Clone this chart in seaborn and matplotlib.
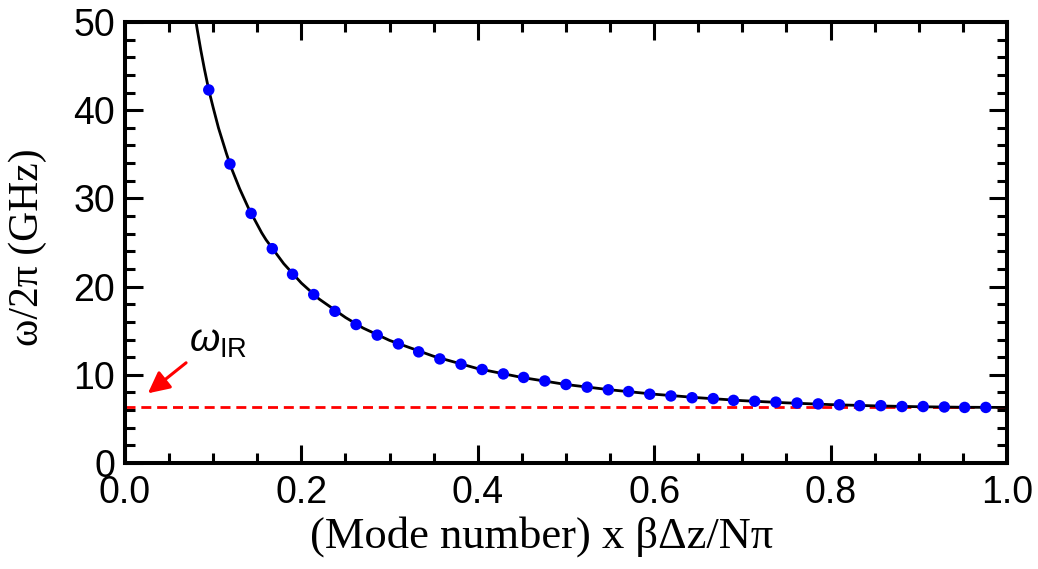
import numpy as np
import pandas as pd
import seaborn as sns
import matplotlib.pyplot as plt
from matplotlib.ticker import MultipleLocator

# mode points (blue dots)
mode_x = [0.095, 0.119, 0.143, 0.167, 0.190, 0.214, 0.238, 0.262, 0.286, 0.310,
          0.333, 0.357, 0.381, 0.405, 0.429, 0.452, 0.476, 0.500, 0.524, 0.548,
          0.571, 0.595, 0.619, 0.643, 0.667, 0.690, 0.714, 0.738, 0.762, 0.786,
          0.810, 0.833, 0.857, 0.881, 0.905, 0.929, 0.952, 0.976]
mode_w = [42.3, 33.9, 28.3, 24.3, 21.4, 19.1, 17.2, 15.7, 14.5, 13.5,
          12.6, 11.8, 11.2, 10.6, 10.1, 9.7, 9.3, 8.9, 8.6, 8.3,
          8.1, 7.8, 7.6, 7.4, 7.3, 7.1, 7.0, 6.9, 6.8, 6.7,
          6.6, 6.5, 6.5, 6.4, 6.4, 6.35, 6.3, 6.3]

# dispersion curve (black line)
curve_x = [0.078, 0.082, 0.086, 0.090, 0.095, 0.100, 0.106, 0.115, 0.120, 0.130,
           0.140, 0.155, 0.160, 0.180, 0.200, 0.220, 0.250, 0.270, 0.300, 0.350,
           0.400, 0.450, 0.500, 0.550, 0.600, 0.650, 0.700, 0.750, 0.800, 0.850,
           0.900, 0.950, 1.000]
curve_w = [51.6, 49.1, 46.8, 44.7, 42.3, 40.3, 38.0, 35.1, 33.6, 31.1,
           28.9, 26.1, 25.3, 22.6, 20.4, 18.6, 16.5, 15.3, 13.9, 12.1,
           10.7, 9.7, 8.9, 8.3, 7.8, 7.4, 7.07, 6.82, 6.62, 6.48,
           6.38, 6.32, 6.30]

w_ir = 6.4

sns.set_theme(style="ticks")
plt.rcParams['font.family'] = ['Liberation Sans', 'DejaVu Sans']
plt.rcParams['mathtext.fontset'] = 'custom'
plt.rcParams['mathtext.rm'] = 'Liberation Sans'
plt.rcParams['mathtext.it'] = 'Liberation Sans:italic'
plt.rcParams['text.color'] = 'black'
plt.rcParams['axes.labelcolor'] = 'black'

fig = plt.figure(figsize=(10.38, 5.69), dpi=100)
ax = fig.add_axes([0.1204, 0.1863, 0.8497, 0.775])

curve_df = pd.DataFrame({'x': curve_x, 'w': curve_w})
mode_df = pd.DataFrame({'x': mode_x, 'w': mode_w})

ax.axhline(w_ir, color='#ff0000', lw=2, dashes=(3.6, 2.1), zorder=1)
sns.lineplot(data=curve_df, x='x', y='w', color='black', lw=2,
             estimator=None, sort=False, ax=ax, zorder=2)
sns.scatterplot(data=mode_df, x='x', y='w', color='#0000ff', s=68,
                edgecolor='none', ax=ax, zorder=3)

ax.annotate(r'$\omega_{\rm IR}$', xy=(0.026, 7.9), xytext=(0.073, 12.6),
            fontsize=28, color='black', ha='left', va='baseline',
            arrowprops=dict(arrowstyle='-|>,head_length=0.5,head_width=0.25',
                            color='#ff0000', lw=2.2,
                            mutation_scale=26, shrinkA=0, shrinkB=0,
                            relpos=(0.0, 0.0)))

ax.set_xlim(0, 1.0)
ax.set_ylim(0, 50)
ax.xaxis.set_major_locator(MultipleLocator(0.2))
ax.xaxis.set_minor_locator(MultipleLocator(0.05))
ax.yaxis.set_major_locator(MultipleLocator(10))
ax.yaxis.set_minor_locator(MultipleLocator(2))
ax.xaxis.set_major_formatter(plt.FormatStrFormatter('%.1f'))

ax.tick_params(which='both', direction='in', top=True, right=True,
               width=2.2, labelsize=27, colors='black')
ax.tick_params(which='major', length=13)
ax.tick_params(axis='x', which='major', pad=9)
ax.tick_params(axis='y', which='major', pad=7)
ax.tick_params(which='minor', length=7)
for s in ax.spines.values():
    s.set_linewidth(2.9)
    s.set_color('black')

ax.set_xlabel('(Mode number) x \u03b2\u0394z/N\u03c0', fontsize=32,
              family='Liberation Serif', color='black')
ax.set_ylabel('\u03c9/2\u03c0 (GHz)', fontsize=30, family='Liberation Serif',
              color='black')
ax.xaxis.set_label_coords(0.472, -0.12)
ax.yaxis.set_label_coords(-0.088, 0.49)

fig.savefig('out.png', dpi=100)
